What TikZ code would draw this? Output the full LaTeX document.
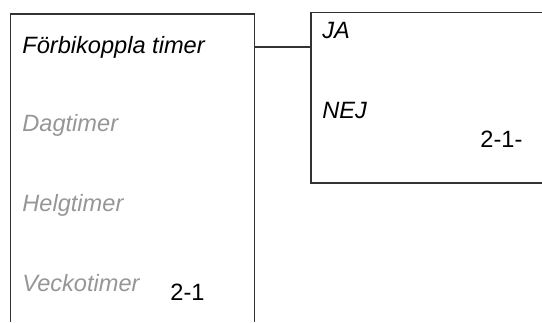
\documentclass[tikz,border=0pt]{standalone}
\usepackage{fontspec}
\setmainfont{Liberation Sans}
\usepackage{tikz}
\usetikzlibrary{positioning}
\definecolor{menugray}{RGB}{150,150,152}
\definecolor{framegray}{RGB}{50,50,50}
\tikzset{
  frame/.style={draw=framegray, line width=0.6pt},
  menuitem/.style={anchor=base west, inner sep=0pt, font=\fontsize{11.8}{14}\selectfont\itshape},
  inactive/.style={menuitem, text=menugray},
  pageref/.style={anchor=base west, inner sep=0pt, font=\fontsize{11.8}{14}\selectfont}
}

\begin{document}
\begin{tikzpicture}[x=0.5pt, y=-0.5pt]

            \useasboundingbox (0,0) rectangle (542,322);

            % ==========================================
            % 1. MENU IZQUIERDO (abierto abajo)
            % ==========================================
            \coordinate (MenuTL) at (10.5, 14);
            \coordinate (MenuTR) at (254.5, 14);
            \draw[frame] (10.5, 322) -- (MenuTL) -- (MenuTR) -- (254.5, 322);

            \node[menuitem] (bypass) at (22, 53) {Förbikoppla timer};
            \node[inactive] (day)    at (22, 131) {Dagtimer};
            \node[inactive] (wkend)  at (22, 211) {Helgtimer};
            \node[inactive] (week)   at (22, 291) {Veckotimer};
            \node[pageref]  (refL)   at (170, 300) {2-1};

            % ==========================================
            % 2. SUBMENU DERECHO (abierto a la derecha)
            % ==========================================
            \coordinate (SubTL) at (311, 12.5);
            \coordinate (SubBL) at (311, 183);
            \draw[frame] (542, 12.5) -- (SubTL) -- (SubBL) -- (542, 183);

            \node[menuitem] (yes)  at (322, 38) {JA};
            \node[menuitem] (no)   at (322, 118) {NEJ};
            \node[pageref]  (refR) at (480, 147) {2-1-};

            % ==========================================
            % 3. CONEXION
            % ==========================================
            \coordinate (MenuOut) at (254.5, 47);
            \coordinate (SubIn) at (311, 47);
            \draw[frame] (MenuOut) -- (SubIn);

        \end{tikzpicture}
\end{document}
